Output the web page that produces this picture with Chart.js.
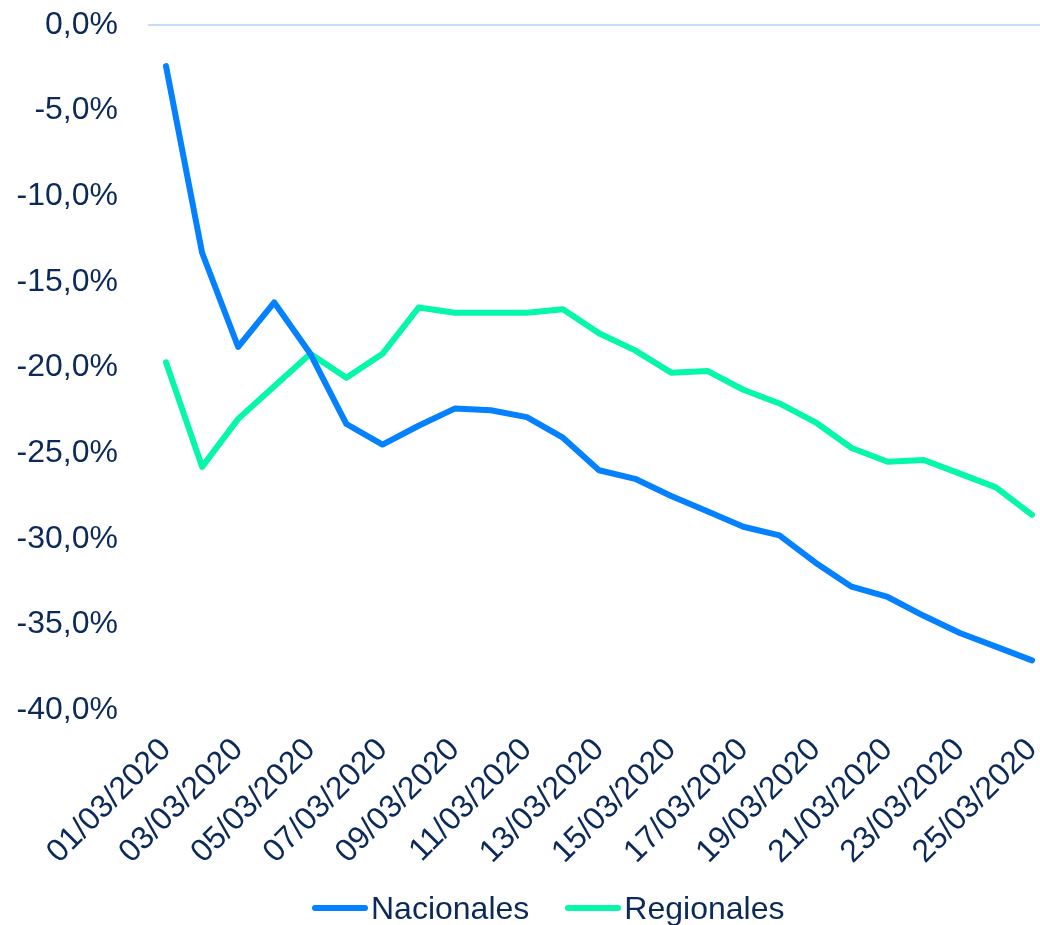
<!DOCTYPE html>
<html>
<head>
<meta charset="utf-8">
<script src="https://cdn.jsdelivr.net/npm/chart.js@4.4.0/dist/chart.umd.min.js"></script>
<style>
  body { margin: 0; background: #fff; }
  #caja { position: relative; width: 1040px; height: 925px; }
  #leyenda {
    position: absolute; left: 312px; top: 890px; height: 36px;
    display: flex; align-items: center;
    font-family: 'Liberation Sans', Arial, sans-serif; font-size: 32px; color: #0b2a5a;
    white-space: nowrap;
  }
  .item { display: flex; align-items: center; margin-right: 36px; }
  .muestra { width: 56px; height: 6px; border-radius: 3px; margin-right: 3px; }
</style>
</head>
<body>
<div id="caja">
  <canvas id="grafico" width="1040" height="925"></canvas>
  <div id="leyenda"></div>
</div>
<script>
// Fechas del eje X (un punto por dia)
var fechas = ['01/03/2020', '02/03/2020', '03/03/2020', '04/03/2020', '05/03/2020',
    '06/03/2020', '07/03/2020', '08/03/2020', '09/03/2020', '10/03/2020',
    '11/03/2020', '12/03/2020', '13/03/2020', '14/03/2020', '15/03/2020',
    '16/03/2020', '17/03/2020', '18/03/2020', '19/03/2020', '20/03/2020',
    '21/03/2020', '22/03/2020', '23/03/2020', '24/03/2020', '25/03/2020'];

// Variacion en %
var nacionales = [-2.4, -13.3, -18.8, -16.2, -19.2, -23.3, -24.5, -23.4, -22.4, -22.5,
    -22.9, -24.1, -26.0, -26.5, -27.5, -28.4, -29.3, -29.8, -31.4, -32.8,
    -33.4, -34.5, -35.5, -36.3, -37.1];
var regionales = [-19.7, -25.8, -23.0, -21.1, -19.2, -20.6, -19.2, -16.5, -16.8, -16.8,
    -16.8, -16.6, -18.0, -19.0, -20.3, -20.2, -21.3, -22.1, -23.2, -24.7,
    -25.5, -25.4, -26.2, -27.0, -28.6];

var colorTexto = '#0b2a5a';
var fuente = { family: 'Liberation Sans, Arial, sans-serif', size: 32 };

// Linea del cero (se extiende desde antes del primer punto hasta el borde)
var lineaCero = {
    id: 'lineaCero',
    beforeDatasetsDraw: function (chart) {
        var ctx = chart.ctx;
        var y = chart.scales.y.getPixelForValue(0);
        ctx.save();
        ctx.strokeStyle = '#c6dcfb';
        ctx.lineWidth = 2;
        ctx.beginPath();
        ctx.moveTo(148, y);
        ctx.lineTo(chart.width, y);
        ctx.stroke();
        ctx.restore();
    }
};

function serie(nombre, datos, color) {
    return {
        label: nombre,
        data: datos,
        borderColor: color,
        backgroundColor: color,
        borderWidth: 6,
        pointRadius: 0,
        tension: 0,
        borderCapStyle: 'round',
        borderJoinStyle: 'round'
    };
}

var ctx = document.getElementById('grafico');
var grafico = new Chart(ctx, {
    type: 'line',
    data: {
        labels: fechas,
        datasets: [serie('Nacionales', nacionales, '#0481ff'), serie('Regionales', regionales, '#05f7aa')]
    },
    options: {
        responsive: false,
        devicePixelRatio: 1,
        animation: false,
        layout: { padding: { top: 25, right: 8, left: 0, bottom: 0 } },
        plugins: {
            tooltip: { enabled: false },
            legend: { display: false }
        },
        scales: {
            x: {
                grid: { display: false, drawTicks: false },
                border: { display: false },
                afterFit: function (escala) {
                    escala.height = 215;
                    escala.paddingLeft = 0;
                    escala.paddingRight = 0;
                },
                ticks: {
                    color: colorTexto,
                    font: fuente,
                    autoSkip: false,
                    minRotation: 45,
                    maxRotation: 45,
                    padding: 21,
                    callback: function (valor, indice) {
                        return indice % 2 == 0 ? this.getLabelForValue(valor) : '';
                    }
                }
            },
            y: {
                min: -40,
                max: 0,
                grid: { display: false, drawTicks: false },
                border: { display: false },
                afterFit: function (escala) {
                    escala.width = 166;
                    escala.paddingTop = 0;
                    escala.paddingBottom = 0;
                },
                ticks: {
                    stepSize: 5,
                    color: colorTexto,
                    font: fuente,
                    padding: 48,
                    callback: function (valor) {
                        var v = Math.abs(valor) < 0.001 ? 0 : valor;
                        return v.toFixed(1).replace('.', ',') + '%';
                    }
                }
            }
        }
    },
    plugins: [lineaCero]
});

// Leyenda en HTML debajo del grafico
var leyenda = document.getElementById('leyenda');
grafico.data.datasets.forEach(function (ds) {
    var item = document.createElement('div');
    item.className = 'item';
    var muestra = document.createElement('span');
    muestra.className = 'muestra';
    muestra.style.background = ds.borderColor;
    var texto = document.createElement('span');
    texto.textContent = ds.label;
    item.appendChild(muestra);
    item.appendChild(texto);
    leyenda.appendChild(item);
});
</script>
</body>
</html>
